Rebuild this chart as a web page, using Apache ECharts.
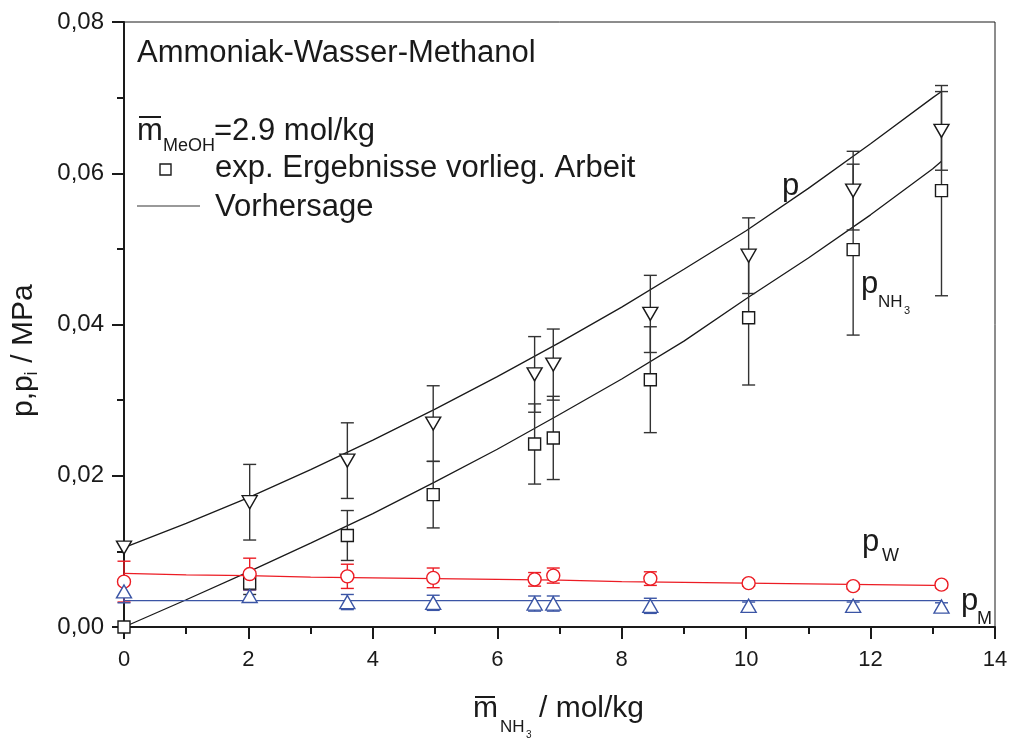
<!DOCTYPE html>
<html><head><meta charset="utf-8">
<script src="https://cdn.jsdelivr.net/npm/echarts@6/dist/echarts.min.js"></script>
<style>html,body{margin:0;padding:0;background:#fff}#c{width:1011px;height:738px}</style>
</head><body><div id="c"></div>
<script>
// ---- data ----
const xExp     = [0, 2.02, 3.59, 4.97, 6.60, 6.90, 8.46, 10.04, 11.72, 13.14];
const pTotal   = [0.0105, 0.0165, 0.0220, 0.0269, 0.0334, 0.0347, 0.0414, 0.0491, 0.0577, 0.0656];
const pTotalErr= [0, 0.0050, 0.0050, 0.0050, 0.0050, 0.0047, 0.0051, 0.0050, 0.0052, 0.0052];
const pNH3     = [0.0000, 0.0058, 0.0121, 0.0175, 0.0242, 0.0250, 0.0327, 0.0409, 0.0499, 0.0577];
const pNH3Err  = [0, 0.0015, 0.0033, 0.0044, 0.0053, 0.0055, 0.0070, 0.0089, 0.0113, 0.0139];
const pW       = [0.0060, 0.0070, 0.0067, 0.0065, 0.0063, 0.0068, 0.0064, 0.0058, 0.0054, 0.0056];
const pWErr    = [0.0027, 0.0021, 0.0016, 0.0013, 0.0009, 0.0010, 0.0009, 0.0004, 0.0004, 0.0004];
const pM       = [0.0047, 0.0041, 0.0033, 0.0032, 0.0031, 0.0031, 0.0028, 0.0028, 0.0028, 0.0027];
const pMErr    = [0.0015, 0.0008, 0.0010, 0.0010, 0.0010, 0.0010, 0.0010, 0.0005, 0.0005, 0.0005];

const xPred    = [0, 1, 2, 3, 4, 5, 6, 7, 8, 9, 10, 11, 12, 13, 13.14];
const pPred    = [0.0105, 0.0137, 0.0171, 0.0208, 0.0247, 0.0288, 0.0331, 0.0376, 0.0423, 0.0473, 0.0524, 0.0580, 0.0639, 0.0700, 0.0708];
const pNH3Pred = [0.0000, 0.0036, 0.0073, 0.0111, 0.0150, 0.0192, 0.0235, 0.0281, 0.0328, 0.0378, 0.0434, 0.0488, 0.0545, 0.0606, 0.0616];
const pWPred   = [0.0071, 0.0069, 0.0068, 0.0066, 0.0065, 0.0064, 0.0063, 0.0062, 0.0060, 0.0059, 0.0058, 0.0057, 0.0056, 0.0055, 0.0055];
const pMPred   = [0.0035, 0.0035, 0.0035, 0.0035, 0.0035, 0.0035, 0.0035, 0.0035, 0.0035, 0.0035, 0.0035, 0.0035, 0.0035, 0.0035, 0.0035];

const xTicks = [0, 2, 4, 6, 8, 10, 12, 14];
const yTicks = [0, 0.02, 0.04, 0.06, 0.08];

const FONT = '"Liberation Sans", Arial, sans-serif';
const RED = '#ec1c24', BLUE = '#3b55a5', BLK = '#1a1a1a';

function pairs(xs, ys) { return xs.map((x, i) => [x, ys[i]]); }

function errSeries(ys, errs, color) {
  return {
    type: 'custom', z: 3, silent: true,
    encode: { x: 0, y: [1, 2] },
    data: xExp.map((x, i) => [x, ys[i] - errs[i], ys[i] + errs[i]]),
    renderItem(params, api) {
      const x = api.value(0), lo = api.value(1), hi = api.value(2);
      if (hi - lo <= 0) return null;
      const a = api.coord([x, lo]), b = api.coord([x, hi]);
      const hw = 6.5;
      const st = { stroke: color, lineWidth: 1.4 };
      return { type: 'group', children: [
        { type: 'line', shape: { x1: a[0], y1: a[1], x2: b[0], y2: b[1] }, style: st },
        { type: 'line', shape: { x1: a[0] - hw, y1: a[1], x2: a[0] + hw, y2: a[1] }, style: st },
        { type: 'line', shape: { x1: b[0] - hw, y1: b[1], x2: b[0] + hw, y2: b[1] }, style: st }
      ]};
    }
  };
}
function lineSeries(ys, color) {
  return { type: 'line', data: pairs(xPred, ys), symbol: 'none', z: 2, silent: true,
    lineStyle: { color, width: 1.3 } };
}
function scatterSeries(ys, symbol, size, color, rotate) {
  return { type: 'scatter', data: pairs(xExp, ys), symbol, symbolSize: size, symbolRotate: rotate || 0,
    z: 4, silent: true, clip: true,
    itemStyle: { color: '#fff', borderColor: color, borderWidth: 1.4, opacity: 1 } };
}

function txt(x, y, s, size, extra) {
  return Object.assign({ type: 'text', x, y, silent: true,
    style: { text: s, fontSize: size, fontFamily: FONT, fill: '#1a1a1a', align: 'left', verticalAlign: 'middle' } }, extra || {});
}
function bar(x1, x2, y) {
  return { type: 'line', silent: true, shape: { x1, y1: y, x2, y2: y }, style: { stroke: '#1a1a1a', lineWidth: 2 } };
}

const graphics = [
  txt(137, 53, 'Ammoniak-Wasser-Methanol', 31),
  // m-bar MeOH = 2.9 mol/kg
  bar(139, 161, 117),
  txt(137, 131, 'm', 31),
  txt(163, 146, 'MeOH', 18),
  txt(214, 131, '=2.9 mol/kg', 31),
  // legend
  { type: 'rect', silent: true, shape: { x: 160, y: 164, width: 11, height: 11 },
    style: { fill: '#fff', stroke: '#1a1a1a', lineWidth: 1.4 } },
  txt(215, 168, 'exp. Ergebnisse vorlieg. Arbeit', 31),
  { type: 'line', silent: true, shape: { x1: 137, y1: 206, x2: 200, y2: 206 }, style: { stroke: '#777', lineWidth: 1.3 } },
  txt(215, 207, 'Vorhersage', 31),
  // curve labels
  txt(782, 186, 'p', 31),
  txt(861, 284, 'p', 31),
  txt(878, 302, 'NH', 17),
  txt(904, 311, '3', 11),
  txt(862, 542, 'p', 31),
  txt(882, 556, 'W', 18),
  txt(961, 601, 'p', 31),
  txt(977, 619, 'M', 18),
  // x axis title
  bar(475, 495, 697),
  txt(473, 709, 'm', 30),
  txt(500, 727, 'NH', 17),
  txt(526, 735, '3', 10),
  txt(539, 709, '/ mol/kg', 30),
  // y axis title (rotated)
  { type: 'group', x: 24, y: 417, rotation: Math.PI / 2, silent: true, children: [
    txt(0, 0, 'p,p', 30),
    txt(41.5, 8, 'i', 18),
    txt(46, 0, ' / MPa', 30)
  ]}
];

const chart = echarts.init(document.getElementById('c'), null, { renderer: 'canvas' });
const axisCommon = {
  type: 'value',
  axisLine: { show: true, onZero: false, lineStyle: { color: '#1a1a1a', width: 2 } },
  axisTick: { show: true, inside: false, length: 12, lineStyle: { color: '#1a1a1a', width: 2 } },
  minorTick: { show: true, splitNumber: 2, length: 7, lineStyle: { color: '#1a1a1a', width: 2 } },
  splitLine: { show: false },
  minorSplitLine: { show: false }
};
chart.setOption({
  animation: false,
  backgroundColor: '#fff',
  grid: { left: 124, right: 16, top: 22, bottom: 111, show: true, borderColor: '#1a1a1a', borderWidth: 1, backgroundColor: 'transparent' },
  xAxis: Object.assign({}, axisCommon, {
    min: xTicks[0], max: xTicks[xTicks.length - 1], interval: 2,
    axisLabel: { fontSize: 22, color: '#1a1a1a', fontFamily: FONT, margin: 22 }
  }),
  yAxis: Object.assign({}, axisCommon, {
    min: yTicks[0], max: yTicks[yTicks.length - 1], interval: 0.02,
    axisLabel: { fontSize: 24, color: '#1a1a1a', fontFamily: FONT, margin: 20,
      formatter: v => v.toFixed(2).replace('.', ',') }
  }),
  series: [
    lineSeries(pPred, BLK),
    lineSeries(pNH3Pred, BLK),
    lineSeries(pWPred, RED),
    lineSeries(pMPred, BLUE),
    errSeries(pTotal, pTotalErr, '#333'),
    errSeries(pNH3, pNH3Err, '#333'),
    errSeries(pW, pWErr, RED),
    errSeries(pM, pMErr, BLUE),
    scatterSeries(pNH3, 'rect', 12, '#1a1a1a'),
    scatterSeries(pTotal, 'triangle', [15, 13], '#1a1a1a', 180),
    scatterSeries(pW, 'circle', 13, RED),
    scatterSeries(pM, 'triangle', [15, 13], BLUE)
  ],
  graphic: graphics
});
</script>
</body></html>
